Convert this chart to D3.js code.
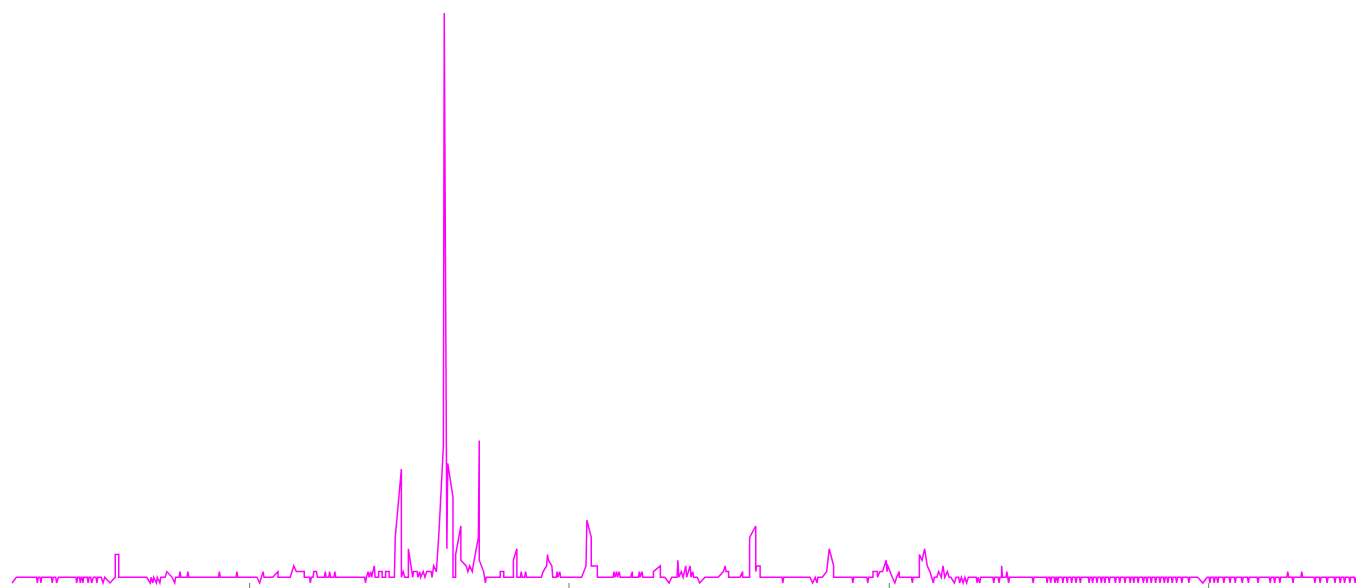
<!DOCTYPE html>
<html>
<head>
<meta charset="utf-8">
<script src="https://cdn.jsdelivr.net/npm/d3@7"></script>
<style>
  body { margin: 0; background: #fff; }
  svg { display: block; }
</style>
</head>
<body>
<div id="svg_chart"></div>
<script>
///////////// Data //////////////
// series start date, points are [days since start, interest 0-100]
var start_date = new Date(2014, 3, 5);
var total_days = 1536;
var tick_years = [2015, 2016, 2017, 2018];

var interest_points = [
  [0,0],[5,1],
  [28,1],[29,0],[30,1],[32,1],[33,0],[34,1],
  [45,1],[46,0],[47,1],[50,1],[51,0],[53,1],
  [73,1],[74,0],[75,1],[77,1],[78,0],[79,1],[80,1],[81,0],[82,1],
  [86,1],[87,0],[88,1],[90,1],[91,0],[93,1],[96,1],[97,0],[98,1],
  [102,1],[104,0],[106,1],[112,0],[118,1],[118,5],[122,5],[122,1],
  [154,1],[158,0],[159,1],[161,0],[162,1],[165,0],[166,1],[169,0],[170,1],
  [175,1],[177,2],[183,1],[186,0],[187,1],
  [191,1],[192,2],[193,1],[200,1],[201,2],[202,1],
  [236,1],[237,2],[238,1],[256,1],[257,2],[258,1],
  [280,1],[283,0],[285,1],[287,2],[288,1],
  [298,1],[304,2],[304,1],
  [318,1],[322,3],[325,2],[334,2],[334,1],
  [340,1],[341,0],[342,1],[344,1],[345,2],[348,2],[349,1],
  [357,1],[358,2],[359,1],[362,1],[363,2],[364,1],[368,1],[369,2],[370,1],
  [403,1],[404,0],[405,1],[407,2],[408,1],[410,2],[411,1],[414,3],[415,1],
  [419,1],[419,2],[423,2],[423,1],[427,1],[427,2],[431,2],[431,1],
  [437,1],[438,8],[445,20],[445,1],[447,2],[449,1],
  [453,1],[453,6],[457,2],[458,1],[459,2],[463,2],[464,1],[466,2],[467,1],
  [470,2],[472,1],[474,2],[479,2],[480,1],[482,3],[485,2],
  [488,9],[493,24],[494,100],[497,6],[498,21],[504,15],[504,1],
  [507,1],[507,5],[513,10],[513,4],
  [519,3],[521,2],[523,3],[526,2],[527,3],[533,8],[534,25],[534,4],
  [539,2],[541,0],[542,1],
  [558,1],[558,2],[562,2],[562,1],
  [573,1],[573,4],[577,6],[577,1],
  [581,1],[582,2],[583,1],[586,1],[587,2],[588,1],
  [605,1],[607,2],[611,3],[612,5],[613,4],[617,3],[618,1],
  [622,1],[623,2],[624,1],[626,2],[627,1],
  [651,1],[656,3],[657,11],[662,8],[662,3],[669,3],[669,1],
  [687,1],[688,2],[689,1],[691,2],[692,1],[694,2],[695,1],
  [707,1],[709,2],[709,1],
  [716,1],[717,2],[718,1],[720,2],[721,1],
  [733,1],[733,2],[741,3],[741,1],
  [746,1],[751,0],[754,1],[760,1],[761,4],[762,1],[765,2],[767,1],
  [770,3],[771,1],[775,3],[776,1],[778,2],[779,1],
  [783,1],[786,0],[792,1],
  [807,1],[813,2],[815,3],[816,2],[819,2],[819,1],
  [832,1],[835,2],[835,1],
  [843,1],[843,8],[850,10],[850,2],[851,3],[855,3],[855,1],
  [880,1],[881,0],[882,1],
  [912,1],[915,0],[918,1],[920,0],[921,1],[926,1],[931,2],[934,6],[939,3],[939,1],
  [960,1],[961,0],[962,1],[977,1],[978,0],[979,1],
  [984,1],[984,2],[989,2],[989,1],[992,2],[995,2],[999,4],[1000,2],[1001,3],
  [1006,1],[1009,0],[1011,1],[1014,2],[1014,1],
  [1028,1],[1029,0],[1030,1],
  [1037,1],[1037,5],[1040,4],[1043,6],[1046,3],[1049,2],[1051,1],[1053,0],[1054,1],
  [1057,1],[1059,2],[1062,1],[1064,3],[1066,1],[1069,2],[1071,1],[1073,1],[1077,0],[1079,1],
  [1082,1],[1083,0],[1085,1],[1087,0],[1089,1],[1091,0],[1093,1],
  [1102,1],[1103,0],[1104,1],[1106,0],[1107,1],
  [1121,1],[1122,0],[1123,1],[1127,1],[1128,0],[1129,1],
  [1131,1],[1131,3],[1132,1],[1136,1],[1137,2],[1138,1],[1139,0],[1140,1],
  [1166,1],[1167,0],[1168,1],
  [1182,1],[1183,0],[1184,1],[1186,1],[1187,0],[1188,1],
  [1191,1],[1192,0],[1193,1],[1194,1],[1195,0],[1196,1],
  [1200,1],[1201,0],[1202,1],[1205,1],[1206,0],[1207,1],
  [1210,1],[1211,0],[1212,1],[1215,1],[1216,0],[1217,1],
  [1220,1],[1221,0],[1222,1],[1230,1],[1231,0],[1232,1],
  [1234,1],[1235,0],[1236,1],[1239,1],[1240,0],[1241,1],
  [1244,1],[1245,0],[1246,1],[1248,1],[1249,0],[1250,1],
  [1253,1],[1254,0],[1255,1],[1260,1],[1261,0],[1262,1],
  [1265,1],[1266,0],[1267,1],[1271,1],[1272,0],[1273,1],
  [1277,1],[1278,0],[1279,1],[1281,1],[1282,0],[1283,1],
  [1286,1],[1287,0],[1288,1],[1292,1],[1293,0],[1294,1],
  [1296,1],[1297,0],[1298,1],[1301,1],[1302,0],[1303,1],
  [1306,1],[1307,0],[1308,1],[1311,1],[1312,0],[1313,1],
  [1316,1],[1317,0],[1318,1],[1320,1],[1321,0],[1322,1],
  [1325,1],[1326,0],[1327,1],[1330,1],[1331,0],[1332,1],
  [1336,1],[1337,0],[1338,1],[1344,1],[1345,0],[1346,1],
  [1355,1],[1361,0],[1366,1],
  [1368,1],[1369,0],[1370,1],[1373,1],[1374,0],[1375,1],
  [1377,1],[1378,0],[1379,1],[1384,1],[1385,0],[1386,1],
  [1391,1],[1392,0],[1393,1],[1397,1],[1398,0],[1399,1],
  [1405,1],[1406,0],[1407,1],[1412,1],[1413,0],[1414,1],
  [1423,1],[1424,0],[1425,1],
  [1437,1],[1438,0],[1439,1],[1442,1],[1443,0],[1444,1],
  [1448,1],[1449,0],[1450,1],
  [1457,1],[1458,2],[1459,1],
  [1463,1],[1464,0],[1465,1],
  [1473,1],[1474,2],[1475,1],
  [1488,1],[1489,0],[1490,1],[1494,1],[1495,0],[1496,1],
  [1502,1],[1503,0],[1504,1],[1511,1],[1512,0],[1513,1],
  [1517,1],[1518,0],[1519,1],[1522,1],[1523,0],[1524,1],
  [1528,1],[1529,0],[1530,1],[1534,1],[1535,0],[1536,1]
];

///////////// Chart //////////////
const svg_width = 1356
const svg_height = 588
const x_left = 12
const x_right = 1356
const y_base = 583
const y_top = 13

var day_ms = 24 * 60 * 60 * 1000;
var series = interest_points.map(function(p){
  return { date: new Date(start_date.getTime() + p[0] * day_ms), value: p[1] };
});

var svg = d3.select('#svg_chart').append('svg')
  .attr('width', svg_width)
  .attr('height', svg_height);

var x_scale = d3.scaleTime()
  .domain([start_date, new Date(start_date.getTime() + total_days * day_ms)])
  .range([x_left, x_right]);

var y_scale = d3.scaleLinear()
  .domain([0, 100])
  .range([y_base, y_top]);

// x axis: yearly ticks only, labels fall below the visible area
var x_axis = svg.append('g')
  .attr('class', 'x axis')
  .attr('transform', `translate(0,${y_base})`)
  .call(d3.axisBottom(x_scale)
    .tickValues(tick_years.map(function(y){ return new Date(y, 0, 1); }))
    .tickSize(6)
    .tickFormat(''));
x_axis.select('.domain').remove();
x_axis.selectAll('.tick line').attr('stroke', '#777');

var line = d3.line()
  .x(function(d){ return x_scale(d.date); })
  .y(function(d){ return y_scale(d.value); });

svg.append('path')
  .datum(series)
  .attr('fill', 'none')
  .attr('stroke', '#ff00ff')
  .attr('stroke-width', 1.5)
  .attr('stroke-linejoin', 'miter')
  .attr('d', line);
</script>
</body>
</html>
